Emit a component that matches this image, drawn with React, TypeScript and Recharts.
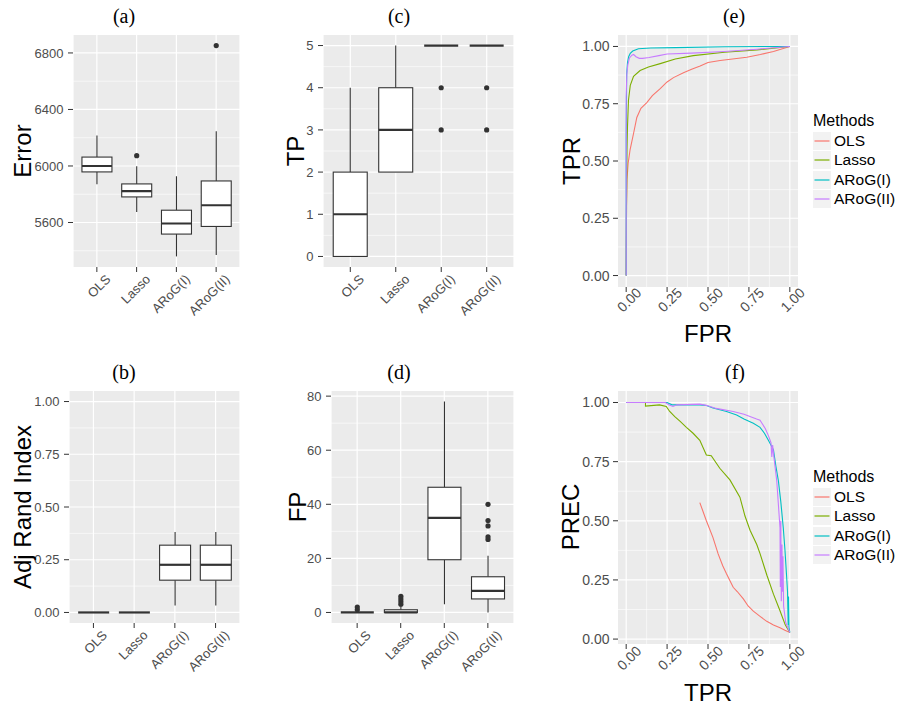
import React from 'react';
import { ComposedChart, Line, Bar, XAxis, YAxis, CartesianGrid, Legend } from 'recharts';

const methods = ['OLS', 'Lasso', 'ARoG(I)', 'ARoG(II)'];
const methodColors = ['#F8766D', '#7CAE00', '#00BFC4', '#C77CFF'];

// (a) Error
const errWhiskerLow = [5871, 5675, 5360, 5370];
const errQ1 = [5958, 5781, 5518, 5572];
const errMedian = [6000, 5822, 5593, 5722];
const errQ3 = [6063, 5873, 5687, 5894];
const errWhiskerHigh = [6216, 5998, 5927, 6245];
const errOutliers = [[], [6073], [], [6852]];
const errTicks = [5600, 6000, 6400, 6800];
const errMinor = [5400, 5800, 6200, 6600];

// (c) TP
const tpWhiskerLow = [0, 2, 5, 5];
const tpQ1 = [0, 2, 5, 5];
const tpMedian = [1, 3, 5, 5];
const tpQ3 = [2, 4, 5, 5];
const tpWhiskerHigh = [4, 5, 5, 5];
const tpOutliers = [[], [], [4, 3], [4, 3]];
const tpTicks = [0, 1, 2, 3, 4, 5];
const tpMinor = [0.5, 1.5, 2.5, 3.5, 4.5];

// (b) Adj Rand Index
const ariWhiskerLow = [0, 0, 0.033, 0.033];
const ariQ1 = [0, 0, 0.153, 0.153];
const ariMedian = [0, 0, 0.226, 0.226];
const ariQ3 = [0, 0, 0.319, 0.319];
const ariWhiskerHigh = [0, 0, 0.381, 0.381];
const ariOutliers = [[], [], [], []];
const unitTicks = [0, 0.25, 0.5, 0.75, 1];
const unitMinor = [0.125, 0.375, 0.625, 0.875];

// (d) FP
const fpWhiskerLow = [0, 0, 3, 0];
const fpQ1 = [0, 0, 19.5, 5];
const fpMedian = [0, 0, 35, 8];
const fpQ3 = [0, 1, 46.3, 13.2];
const fpWhiskerHigh = [0, 2, 78, 21];
const fpOutliers = [[1, 2], [3, 4, 5, 6], [], [27, 28, 32, 34, 40]];
const fpTicks = [0, 20, 40, 60, 80];
const fpMinor = [10, 30, 50, 70];

// (e) ROC: FPR / TPR
const rocOlsFpr = [0, 0.002, 0.005, 0.012, 0.024, 0.045, 0.065, 0.09, 0.126, 0.16, 0.208, 0.25, 0.289, 0.35, 0.4, 0.452, 0.5, 0.574, 0.65, 0.737, 0.82, 0.9, 1];
const rocOlsTpr = [0, 0.3, 0.42, 0.49, 0.55, 0.62, 0.69, 0.73, 0.755, 0.785, 0.816, 0.845, 0.864, 0.885, 0.9, 0.915, 0.93, 0.939, 0.945, 0.953, 0.965, 0.978, 1];
const rocLassoFpr = [0, 0.002, 0.005, 0.008, 0.014, 0.025, 0.045, 0.085, 0.136, 0.208, 0.3, 0.41, 0.6, 0.8, 1];
const rocLassoTpr = [0, 0.3, 0.55, 0.65, 0.765, 0.83, 0.87, 0.895, 0.91, 0.925, 0.945, 0.96, 0.975, 0.985, 1];
const rocArog1Fpr = [0, 0, 0.003, 0.008, 0.015, 0.025, 0.04, 0.075, 0.15, 0.3, 0.6, 1];
const rocArog1Tpr = [0, 0.6, 0.88, 0.93, 0.955, 0.97, 0.98, 0.99, 0.993, 0.995, 0.999, 1];
const rocArog2Fpr = [0, 0, 0.004, 0.01, 0.02, 0.035, 0.045, 0.06, 0.08, 0.1, 0.14, 0.2, 0.25, 0.4, 0.6, 0.8, 1];
const rocArog2Tpr = [0, 0.78, 0.88, 0.92, 0.95, 0.962, 0.965, 0.955, 0.948, 0.948, 0.952, 0.96, 0.967, 0.971, 0.978, 0.988, 1];

// (f) PR: TPR / PREC
const prOlsTpr = [0.45, 0.49, 0.53, 0.562, 0.59, 0.613, 0.654, 0.68, 0.716, 0.745, 0.777, 0.82, 0.859, 0.9, 0.94, 0.97, 1];
const prOlsPrec = [0.577, 0.5, 0.43, 0.36, 0.31, 0.276, 0.219, 0.2, 0.17, 0.14, 0.118, 0.095, 0.075, 0.06, 0.048, 0.037, 0.028];
const prLassoTpr = [0, 0.118, 0.118, 0.204, 0.245, 0.266, 0.297, 0.33, 0.368, 0.409, 0.45, 0.49, 0.52, 0.572, 0.634, 0.695, 0.726, 0.757, 0.798, 0.818, 0.86, 0.9, 0.94, 0.972, 1];
const prLassoPrec = [1, 1, 0.985, 0.99, 0.983, 0.962, 0.94, 0.92, 0.895, 0.87, 0.84, 0.778, 0.775, 0.722, 0.673, 0.6, 0.52, 0.46, 0.4, 0.361, 0.27, 0.19, 0.12, 0.06, 0.028];
const prArog1Tpr = [0, 0.25, 0.28, 0.45, 0.49, 0.531, 0.613, 0.675, 0.72, 0.777, 0.818, 0.845, 0.869, 0.9, 0.915, 0.93, 0.945, 0.96, 0.97, 0.98, 0.986, 0.99, 0.992, 0.995, 1];
const prArog1Prec = [1, 1, 0.99, 0.99, 0.987, 0.977, 0.962, 0.947, 0.93, 0.912, 0.895, 0.87, 0.84, 0.8, 0.73, 0.67, 0.58, 0.47, 0.38, 0.27, 0.2, 0.06, 0.18, 0.05, 0.028];
const prArog2Tpr = [0, 0.24, 0.26, 0.286, 0.31, 0.45, 0.49, 0.55, 0.654, 0.72, 0.797, 0.818, 0.85, 0.869, 0.885, 0.89, 0.895, 0.9, 0.92, 0.94, 0.942, 0.945, 0.948, 0.952, 0.955, 0.958, 0.962, 0.975, 1];
const prArog2Prec = [1, 1, 0.99, 0.983, 0.99, 0.993, 0.988, 0.975, 0.962, 0.95, 0.93, 0.925, 0.89, 0.86, 0.83, 0.77, 0.82, 0.785, 0.67, 0.47, 0.22, 0.5, 0.16, 0.4, 0.2, 0.35, 0.14, 0.07, 0.028];

const FONT = '"Liberation Sans", Arial, Helvetica, sans-serif';
const Y_W = 60;

function boxRows(wl: number[], q1: number[], med: number[], q3: number[], wh: number[], out: number[][]) {
  return methods.map((name, i) => {
    const all = [wl[i], wh[i], ...out[i]];
    return { name, wl: wl[i], q1: q1[i], med: med[i], q3: q3[i], wh: wh[i], out: out[i], range: [Math.min(...all), Math.max(...all)] };
  });
}

function pairs(xs: number[], ys: number[]) {
  return xs.map((x, i) => ({ x, y: ys[i] }));
}

const BoxShape = (props: any) => {
  const { x, y, width, height, payload } = props;
  if (!payload) return null;
  const [lo, hi] = payload.range;
  const py = (v: number) => (hi === lo ? y : y + ((hi - v) / (hi - lo)) * height);
  const cx = x + width / 2;
  const c = '#333333';
  return (
    <g>
      <line x1={cx} x2={cx} y1={py(payload.wh)} y2={py(payload.q3)} stroke={c} strokeWidth={1.1} />
      <line x1={cx} x2={cx} y1={py(payload.q1)} y2={py(payload.wl)} stroke={c} strokeWidth={1.1} />
      <rect x={x} y={py(payload.q3)} width={width} height={Math.max(0, py(payload.q1) - py(payload.q3))} fill="#FFFFFF" stroke={c} strokeWidth={1.1} />
      <line x1={x} x2={x + width} y1={py(payload.med)} y2={py(payload.med)} stroke={c} strokeWidth={2.2} />
      {payload.out.map((v: number, k: number) => (
        <circle key={k} cx={cx} cy={py(v)} r={2.6} fill={c} />
      ))}
    </g>
  );
};

const rotTick = (fs: number, dx: number, dy: number, fmt?: (v: any) => string) => (props: any) => {
  const { x, y, payload } = props;
  const tx = x + dx;
  const ty = y + dy;
  return (
    <text x={tx} y={ty} transform={`rotate(-45 ${tx} ${ty})`} textAnchor="end" fontSize={fs} fill="#4D4D4D" fontFamily={FONT}>
      {fmt ? fmt(payload.value) : payload.value}
    </text>
  );
};

const fmt2 = (v: number) => v.toFixed(2);

function frame(L: number, T: number, R: number, B: number, extraRight: number) {
  const mTop = 5;
  return {
    left: L - Y_W,
    top: T - mTop,
    width: Y_W + (R - L) + extraRight,
    height: mTop + (B - T) + 60,
    margin: { top: mTop, right: extraRight, bottom: 0, left: 0 },
  };
}

function BoxPanel(props: { rect: number[]; rows: any[]; domain: number[]; ticks: number[]; minor: number[]; fmt?: (v: number) => string }) {
  const [L, T, R, B] = props.rect;
  const f = frame(L, T, R, B, 5);
  const pad = (R - L) / 42;
  return (
    <div style={{ position: 'absolute', left: f.left, top: f.top }}>
      <ComposedChart width={f.width} height={f.height} data={props.rows} margin={f.margin} barCategoryGap="12.5%">
        <CartesianGrid fill="#EBEBEB" stroke="#FFFFFF" strokeWidth={0.6} vertical={false} horizontalValues={props.minor} />
        <CartesianGrid stroke="#FFFFFF" strokeWidth={1.2} horizontalValues={props.ticks} />
        <XAxis dataKey="name" type="category" padding={{ left: pad, right: pad }} height={60} axisLine={false} tickLine={{ stroke: '#333333' }} tickSize={5} tickMargin={3} interval={0} tick={rotTick(13, 14.5, 5)} />
        <YAxis type="number" domain={props.domain} allowDataOverflow ticks={props.ticks} interval={0} width={Y_W} axisLine={false} tickLine={{ stroke: '#333333' }} tickSize={5} tickMargin={4.5} tick={{ fill: '#4D4D4D', fontSize: 13, fontFamily: FONT }} tickFormatter={props.fmt} />
        <Bar dataKey="range" shape={BoxShape} isAnimationActive={false} />
      </ComposedChart>
    </div>
  );
}

const MethodsLegend = () => (
  <div style={{ fontFamily: FONT, width: 95, color: '#000' }}>
    <div style={{ fontSize: 16, height: 20, lineHeight: '20px' }}>Methods</div>
    {methods.map((m, i) => (
      <div key={m} style={{ display: 'flex', alignItems: 'center', height: 19.5 }}>
        <svg width={18} height={18} style={{ display: 'block' }}>
          <rect width={18} height={18} fill="#F2F2F2" />
          <line x1={1.5} x2={16.5} y1={9} y2={9} stroke={methodColors[i]} strokeWidth={1.2} />
        </svg>
        <span style={{ fontSize: 15.5, marginLeft: 3, lineHeight: '18px' }}>{m}</span>
      </div>
    ))}
  </div>
);

function CurvePanel(props: { rect: number[]; series: { x: number; y: number }[][]; yDomain: number[]; tickDy: number }) {
  const [L, T, R, B] = props.rect;
  const f = frame(L, T, R, B, 105);
  return (
    <div style={{ position: 'absolute', left: f.left, top: f.top }}>
      <ComposedChart width={f.width} height={f.height} margin={f.margin}>
        <CartesianGrid fill="#EBEBEB" stroke="#FFFFFF" strokeWidth={0.6} horizontalValues={unitMinor} verticalValues={unitMinor} />
        <CartesianGrid stroke="#FFFFFF" strokeWidth={1.2} horizontalValues={unitTicks} verticalValues={unitTicks} />
        <XAxis type="number" dataKey="x" domain={[-0.05, 1.05]} allowDataOverflow ticks={unitTicks} interval={0} height={60} axisLine={false} tickLine={{ stroke: '#333333' }} tickSize={5} tickMargin={3} tick={rotTick(14, 16, props.tickDy, fmt2)} />
        <YAxis type="number" domain={props.yDomain} allowDataOverflow ticks={unitTicks} interval={0} width={Y_W} axisLine={false} tickLine={{ stroke: '#333333' }} tickSize={5} tickMargin={3.5} tick={{ fill: '#4D4D4D', fontSize: 14, fontFamily: FONT }} tickFormatter={fmt2} />
        {props.series.map((d, i) => (
          <Line key={methods[i]} name={methods[i]} data={d} dataKey="y" type="linear" stroke={methodColors[i]} strokeWidth={1.1} dot={false} activeDot={false} isAnimationActive={false} />
        ))}
        <Legend content={<MethodsLegend />} layout="horizontal" align="center" verticalAlign="middle" wrapperStyle={{ left: 255, top: 81, width: 100 }} />
      </ComposedChart>
    </div>
  );
}

const titles = [
  { t: '(a)', x: 124, y: 16 },
  { t: '(c)', x: 399, y: 16 },
  { t: '(e)', x: 734, y: 16 },
  { t: '(b)', x: 124, y: 372 },
  { t: '(d)', x: 399, y: 372 },
  { t: '(f)', x: 735, y: 372 },
];

const axisTitles = [
  { t: 'Error', x: 22, y: 151, r: true },
  { t: 'TP', x: 295, y: 151, r: true },
  { t: 'TPR', x: 571, y: 161, r: true },
  { t: 'FPR', x: 708, y: 333, r: false },
  { t: 'Adj Rand Index', x: 22, y: 507, r: true },
  { t: 'FP', x: 297, y: 507, r: true },
  { t: 'PREC', x: 570, y: 517, r: true },
  { t: 'TPR', x: 708, y: 692, r: false },
];

export default function App() {
  const errRows = boxRows(errWhiskerLow, errQ1, errMedian, errQ3, errWhiskerHigh, errOutliers);
  const tpRows = boxRows(tpWhiskerLow, tpQ1, tpMedian, tpQ3, tpWhiskerHigh, tpOutliers);
  const ariRows = boxRows(ariWhiskerLow, ariQ1, ariMedian, ariQ3, ariWhiskerHigh, ariOutliers);
  const fpRows = boxRows(fpWhiskerLow, fpQ1, fpMedian, fpQ3, fpWhiskerHigh, fpOutliers);
  const roc = [pairs(rocOlsFpr, rocOlsTpr), pairs(rocLassoFpr, rocLassoTpr), pairs(rocArog1Fpr, rocArog1Tpr), pairs(rocArog2Fpr, rocArog2Tpr)];
  const pr = [pairs(prOlsTpr, prOlsPrec), pairs(prLassoTpr, prLassoPrec), pairs(prArog1Tpr, prArog1Prec), pairs(prArog2Tpr, prArog2Prec)];
  return (
    <div style={{ position: 'absolute', left: 0, top: 0, width: 901, height: 710, background: '#FFFFFF', fontFamily: FONT, overflow: 'hidden' }}>
      <BoxPanel rect={[73, 35, 240, 267]} rows={errRows} domain={[5285, 6927]} ticks={errTicks} minor={errMinor} />
      <BoxPanel rect={[323, 35, 514, 267]} rows={tpRows} domain={[-0.25, 5.25]} ticks={tpTicks} minor={tpMinor} />
      <BoxPanel rect={[69, 391, 240, 623]} rows={ariRows} domain={[-0.05, 1.05]} ticks={unitTicks} minor={unitMinor} fmt={fmt2} />
      <BoxPanel rect={[331, 391, 514, 623]} rows={fpRows} domain={[-3.9, 81.9]} ticks={fpTicks} minor={fpMinor} />
      <CurvePanel rect={[618, 35, 798, 287]} series={roc} yDomain={[-0.05, 1.05]} tickDy={-1.3} />
      <CurvePanel rect={[618, 391, 798, 644]} series={pr} yDomain={[-0.0208, 1.0486]} tickDy={0} />
      <svg width={901} height={710} style={{ position: 'absolute', left: 0, top: 0, pointerEvents: 'none' }}>
        {titles.map((d) => (
          <text key={d.t} x={d.x} y={d.y} textAnchor="middle" dominantBaseline="central" fontFamily='"Liberation Serif", "Times New Roman", serif' fontSize={20} fill="#000">
            {d.t}
          </text>
        ))}
        {axisTitles.map((d, i) => (
          <text key={i} x={d.x} y={d.y} textAnchor="middle" dominantBaseline="central" fontFamily={FONT} fontSize={24} fill="#000" transform={d.r ? `rotate(-90 ${d.x} ${d.y})` : undefined}>
            {d.t}
          </text>
        ))}
      </svg>
    </div>
  );
}
